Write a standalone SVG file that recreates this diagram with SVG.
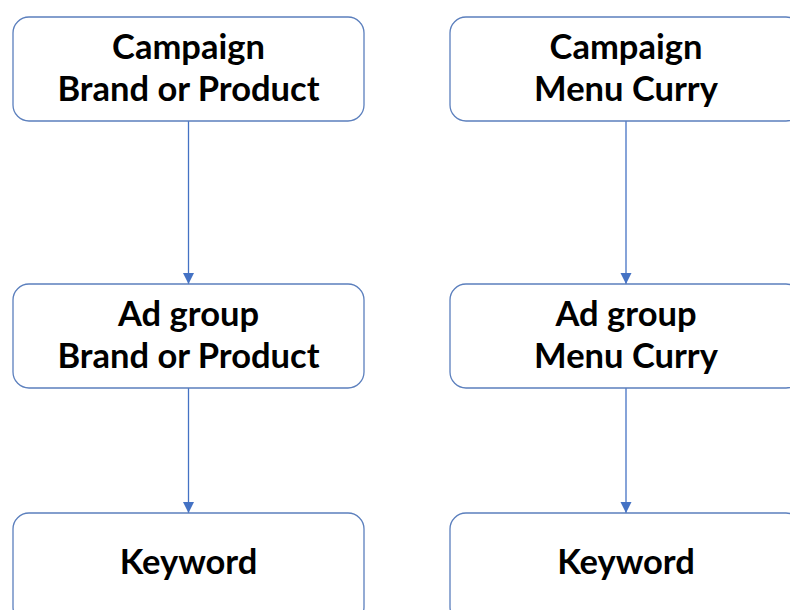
<svg xmlns="http://www.w3.org/2000/svg" width="790" height="610" viewBox="0 0 790 610">
<style>
.box{fill:#fff;stroke:#5b7fbd;stroke-width:1.3}
.t{font-family:Lato,"Open Sans","Liberation Sans",sans-serif;font-weight:bold;font-size:34.5px;fill:#000;text-anchor:middle}
.c{stroke:#4472c4;stroke-width:1.3;fill:none}
</style>
<defs>
<marker id="ah" markerWidth="12" markerHeight="12" refX="11" refY="5.5" orient="auto" markerUnits="userSpaceOnUse">
<path d="M0,0 L11,5.5 L0,11 Z" fill="#4472c4"/>
</marker>
</defs>
<rect width="790" height="610" fill="#fff"/>
<g id="connectors">
<line class="c" x1="188.5" y1="121" x2="188.5" y2="284" marker-end="url(#ah)"/>
<line class="c" x1="188.5" y1="388" x2="188.5" y2="513" marker-end="url(#ah)"/>
<line class="c" x1="626" y1="121" x2="626" y2="284" marker-end="url(#ah)"/>
<line class="c" x1="626" y1="388" x2="626" y2="513" marker-end="url(#ah)"/>
</g>
<g id="campaign-brand">
<rect class="box" x="13" y="17" width="351" height="104" rx="16"/>
<text class="t" x="188.5" y="59">Campaign</text>
<text class="t" x="188.5" y="101">Brand or Product</text>
</g>
<g id="campaign-curry">
<rect class="box" x="450" y="17" width="352" height="104" rx="16"/>
<text class="t" x="626" y="59">Campaign</text>
<text class="t" x="626" y="101">Menu Curry</text>
</g>
<g id="adgroup-brand">
<rect class="box" x="13" y="284" width="351" height="104" rx="16"/>
<text class="t" x="188.5" y="326">Ad group</text>
<text class="t" x="188.5" y="368">Brand or Product</text>
</g>
<g id="adgroup-curry">
<rect class="box" x="450" y="284" width="352" height="104" rx="16"/>
<text class="t" x="626" y="326">Ad group</text>
<text class="t" x="626" y="368">Menu Curry</text>
</g>
<g id="keyword-brand">
<rect class="box" x="13" y="513" width="351" height="110" rx="16"/>
<text class="t" x="188.5" y="574">Keyword</text>
</g>
<g id="keyword-curry">
<rect class="box" x="450" y="513" width="352" height="110" rx="16"/>
<text class="t" x="626" y="574">Keyword</text>
</g>
</svg>
